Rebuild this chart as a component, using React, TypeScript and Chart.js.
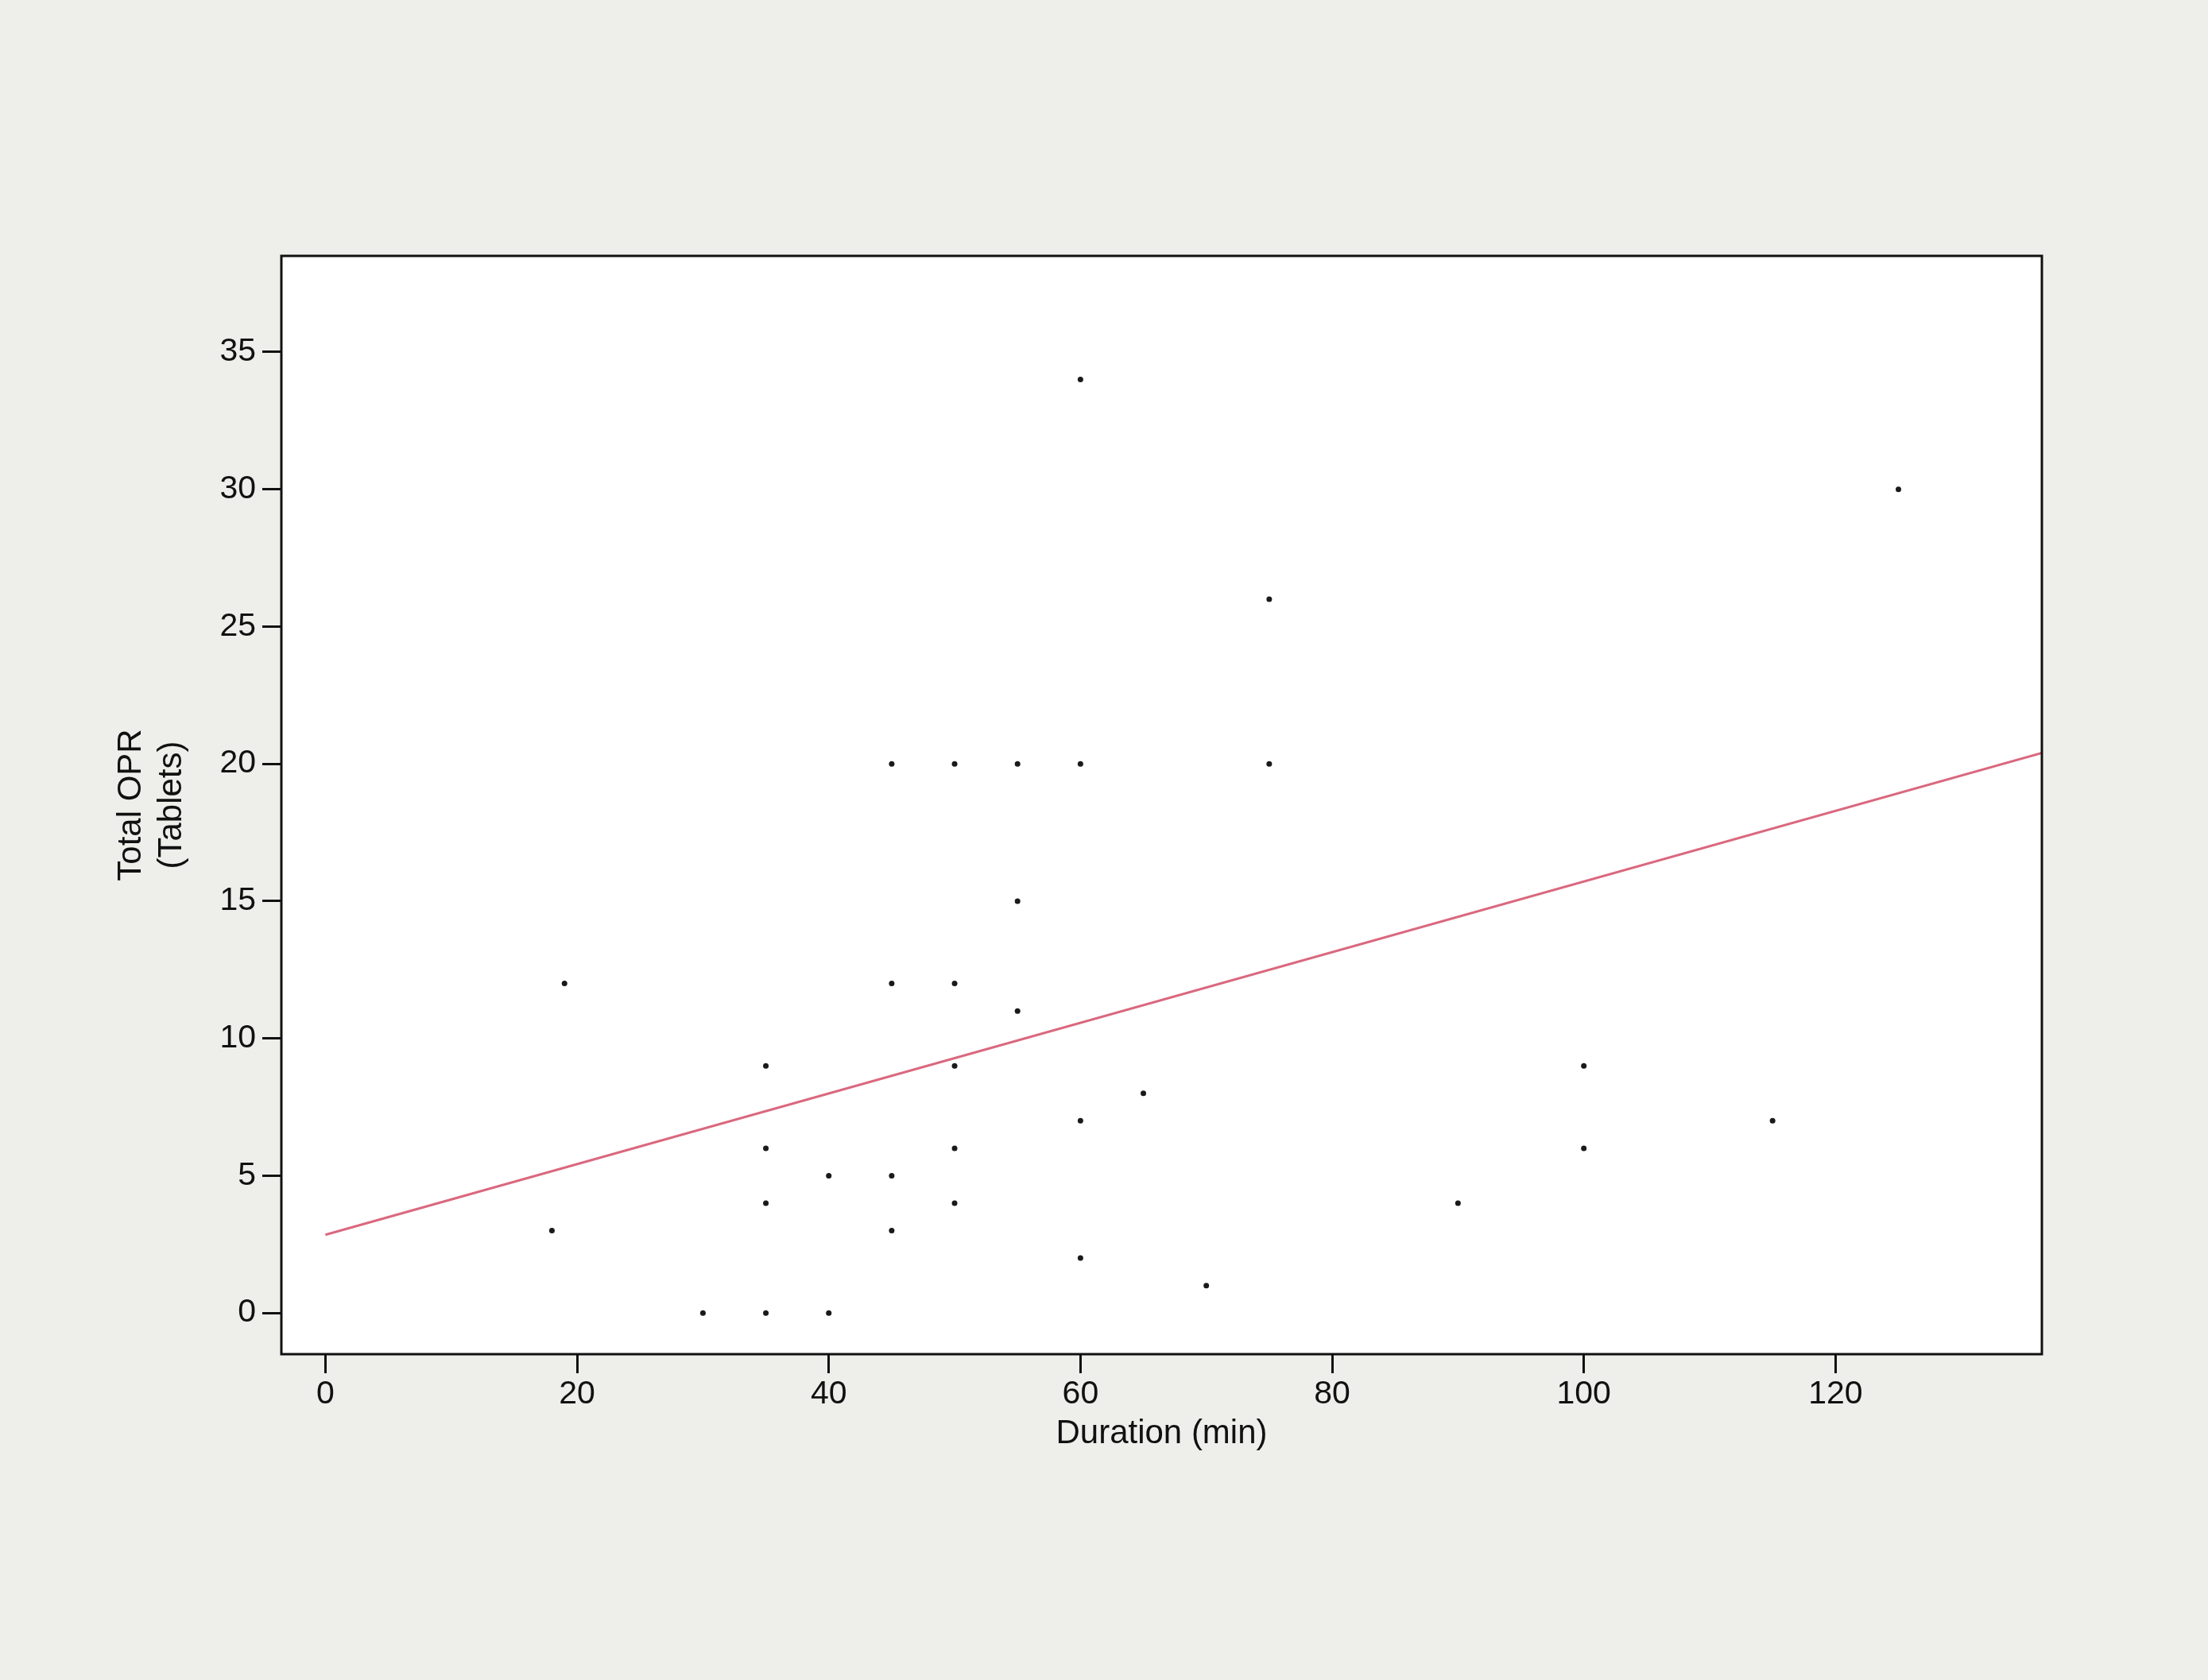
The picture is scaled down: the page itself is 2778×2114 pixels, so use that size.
import React, { useEffect, useRef } from 'react';
import { Chart, registerables } from 'chart.js';

Chart.register(...registerables);

// ---- Data ----
const durationMin = [60, 125, 75, 45, 50, 55, 60, 75, 55, 19, 45, 50, 55, 35, 50, 65, 100, 60, 115, 35, 50, 100, 40, 45, 35, 50, 90, 18, 45, 60, 70, 30, 35, 40];
const totalOPR = [34, 30, 26, 20, 20, 20, 20, 20, 15, 12, 12, 12, 11, 9, 9, 8, 9, 7, 7, 6, 6, 6, 5, 5, 4, 4, 4, 3, 3, 2, 1, 0, 0, 0];
const fitX = [0, 136.4];
const fitY = [2.85, 20.4];
const xTicks = [0, 20, 40, 60, 80, 100, 120];
const yTicks = [0, 5, 10, 15, 20, 25, 30, 35];
const xRange = [-3.5, 136.4];
const yRange = [-1.5, 38.5];
const xTitle = 'Duration (min)';
const yTitle = ['Total OPR', '(Tablets)'];

const W = 2778;
const H = 2114;
const PAGE_BG = '#eeeeea';
const TEXT = '#111111';
const FAMILY = '"Liberation Sans", Arial, Helvetica, sans-serif';
const TICK_FONT = { family: FAMILY, size: 41, lineHeight: 1.2 };
const TITLE_FONT = { family: FAMILY, size: 42, lineHeight: 1.215 };

const plotBox = {
  id: 'plotBox',
  beforeDraw(chart: any) {
    const { ctx, chartArea: a } = chart;
    ctx.save();
    ctx.fillStyle = '#ffffff';
    ctx.fillRect(a.left, a.top, a.right - a.left, a.bottom - a.top);
    ctx.restore();
  },
  afterDraw(chart: any) {
    const { ctx, chartArea: a } = chart;
    ctx.save();
    ctx.strokeStyle = '#111111';
    ctx.lineWidth = 3;
    ctx.strokeRect(a.left, a.top, a.right - a.left, a.bottom - a.top);
    ctx.restore();
  },
};

export default function App() {
  const ref = useRef<HTMLCanvasElement | null>(null);

  useEffect(() => {
    document.body.style.margin = '0';
    document.body.style.background = PAGE_BG;
    const canvas = ref.current!;
    const scatter = durationMin.map((x, i) => ({ x, y: totalOPR[i] }));
    const fit = fitX.map((x, i) => ({ x, y: fitY[i] }));

    const chart = new Chart(canvas, {
      type: 'scatter',
      data: {
        datasets: [
          {
            type: 'scatter',
            data: scatter,
            pointRadius: 3.5,
            pointHoverRadius: 3.5,
            pointBackgroundColor: '#1a1a1a',
            pointBorderWidth: 0,
            order: 2,
          },
          {
            type: 'line',
            data: fit,
            borderColor: 'rgb(218, 104, 126)',
            borderWidth: 3,
            pointRadius: 0,
            fill: false,
            tension: 0,
            order: 1,
          } as any,
        ],
      },
      options: {
        responsive: false,
        animation: false,
        devicePixelRatio: 1,
        layout: { padding: { top: 322, right: 209, bottom: 0, left: 0 } },
        plugins: { legend: { display: false }, tooltip: { enabled: false } },
        scales: {
          x: {
            type: 'linear',
            position: 'bottom',
            min: xRange[0],
            max: xRange[1],
            afterBuildTicks: (s: any) => {
              s.ticks = xTicks.map((v) => ({ value: v }));
            },
            afterFit: (s: any) => {
              s.height = 410;
            },
            grid: { drawOnChartArea: false, drawTicks: true, tickLength: 24, color: '#111111', lineWidth: 3 },
            border: { display: false },
            ticks: { color: TEXT, font: TICK_FONT, padding: 2, maxRotation: 0, autoSkip: false },
            title: { display: true, text: xTitle, color: TEXT, font: TITLE_FONT, padding: { top: 0, bottom: 284.5 } },
          },
          y: {
            type: 'linear',
            position: 'left',
            min: yRange[0],
            max: yRange[1],
            afterBuildTicks: (s: any) => {
              s.ticks = yTicks.map((v) => ({ value: v }));
            },
            afterFit: (s: any) => {
              s.width = 354;
            },
            grid: { drawOnChartArea: false, drawTicks: true, tickLength: 24, color: '#111111', lineWidth: 3 },
            border: { display: false },
            ticks: { color: TEXT, font: TICK_FONT, padding: 8, autoSkip: false },
            title: { display: true, text: yTitle, color: TEXT, font: TITLE_FONT, padding: { top: 139.5, bottom: 0 } },
          },
        },
      },
      plugins: [plotBox],
    } as any);

    return () => chart.destroy();
  }, []);

  return (
    <div style={{ position: 'fixed', left: 0, top: 0, width: W, height: H, background: PAGE_BG }}>
      <canvas ref={ref} width={W} height={H} style={{ display: 'block', width: W, height: H }} />
    </div>
  );
}
